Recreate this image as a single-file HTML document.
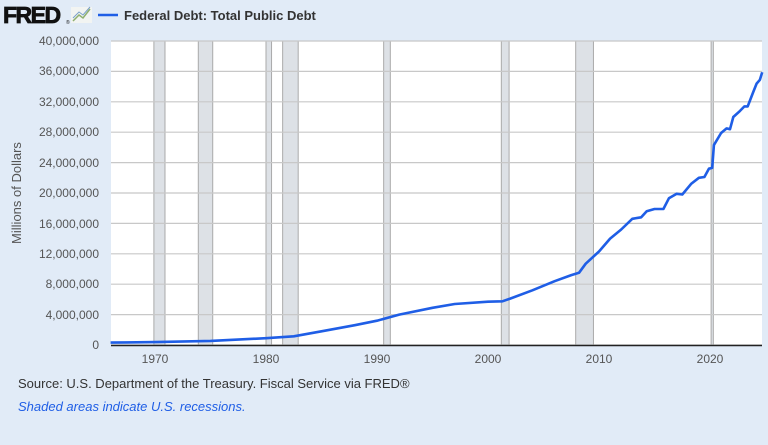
<!DOCTYPE html>
<html><head><meta charset="utf-8"><style>
body{margin:0;width:768px;height:440px;background:#e1ebf7;font-family:"Liberation Sans",sans-serif;overflow:hidden}
</style></head><body>
<svg width="768" height="440" xmlns="http://www.w3.org/2000/svg" font-family="Liberation Sans, sans-serif">
<text x="3" y="23" font-size="23" font-weight="bold" fill="#111" stroke="#111" stroke-width="0.8" letter-spacing="-1.5">FRED</text>
<text x="66" y="24" font-size="5" fill="#111">®</text>
<rect x="71" y="7" width="21" height="16" fill="#f2f4f2"/>
<polyline points="73,21 79,15 83,18 90,9" fill="none" stroke="#8fb070" stroke-width="1.5"/>
<polyline points="73,18 79,12 83,15 90,7" fill="none" stroke="#7aa0c8" stroke-width="1"/>
<line x1="98" y1="15" x2="118" y2="15" stroke="#1f5ee6" stroke-width="2.5"/>
<text x="124" y="20" font-size="13" font-weight="bold" fill="#333">Federal Debt: Total Public Debt</text>
<rect x="111" y="41" width="651" height="304" fill="#fff"/>
<g id="rec" fill="#dde1e6" stroke="#aaa" stroke-width="1"></g>
<g id="grid" stroke="#c8c8c8" stroke-width="1.2"></g>
<g id="ylab" font-size="12" fill="#555" text-anchor="end">
<text x="99" y="45">40,000,000</text><text x="99" y="75">36,000,000</text><text x="99" y="106">32,000,000</text><text x="99" y="136">28,000,000</text><text x="99" y="167">24,000,000</text><text x="99" y="197">20,000,000</text><text x="99" y="228">16,000,000</text><text x="99" y="258">12,000,000</text><text x="99" y="288">8,000,000</text><text x="99" y="319">4,000,000</text><text x="99" y="349">0</text>
</g>
<text transform="translate(21,193) rotate(-90)" font-size="13" fill="#555" text-anchor="middle">Millions of Dollars</text>
<g font-size="12" fill="#555" text-anchor="middle">
<text x="155" y="363">1970</text><text x="266" y="363">1980</text><text x="377" y="363">1990</text><text x="488" y="363">2000</text><text x="599" y="363">2010</text><text x="710" y="363">2020</text>
</g>
<path id="ln" fill="none" stroke="#1f5ee6" stroke-width="2.6" stroke-linejoin="round"/>
<line x1="111" y1="345.5" x2="762" y2="345.5" stroke="#222" stroke-width="1.5"/>
<text x="18" y="388" font-size="13" fill="#333">Source: U.S. Department of the Treasury. Fiscal Service via FRED®</text>
<text x="18" y="411" font-size="13" fill="#1f5ee6" font-style="italic">Shaded areas indicate U.S. recessions.</text>
</svg>
<script>
const X=y=>155+11.1*(y-1970), Y=v=>345-v/40*304, ns="http://www.w3.org/2000/svg";
const rec=[[1969.9,1970.9],[1973.9,1975.2],[1980,1980.5],[1981.5,1982.9],[1990.6,1991.2],[2001.2,2001.9],[2007.9,2009.5],[2020.1,2020.3]];
const rg=document.getElementById('rec');
rec.forEach(r=>{const e=document.createElementNS(ns,'rect');e.setAttribute('x',X(r[0]));e.setAttribute('y',41);e.setAttribute('width',X(r[1])-X(r[0]));e.setAttribute('height',304);rg.appendChild(e);});
const g=document.getElementById('grid');
for(let i=0;i<=10;i++){const l=document.createElementNS(ns,'line');const y=Y(i*4);l.setAttribute('x1',111);l.setAttribute('x2',762);l.setAttribute('y1',y);l.setAttribute('y2',y);g.appendChild(l);}
const d=[[1966,.32],[1970,.38],[1975,.54],[1980,.9],[1982.5,1.15],[1985,1.8],[1988,2.6],[1990,3.2],[1992,4.0],[1995,4.9],[1997,5.4],[2000,5.7],[2001.3,5.75],[2002,6.1],[2004,7.2],[2006,8.4],[2007.5,9.2],[2008.2,9.5],[2008.8,10.7],[2010,12.3],[2011,14.0],[2012,15.2],[2013,16.6],[2013.8,16.8],[2014.3,17.6],[2015,17.9],[2015.8,17.9],[2016.3,19.3],[2017,19.9],[2017.5,19.8],[2018.3,21.2],[2019,22.0],[2019.5,22.1],[2019.9,23.2],[2020.2,23.3],[2020.35,26.3],[2021,27.9],[2021.5,28.5],[2021.8,28.4],[2022.1,30.0],[2022.7,30.8],[2023.1,31.4],[2023.4,31.4],[2023.9,33.3],[2024.2,34.4],[2024.5,34.9],[2024.7,35.9]];
document.getElementById('ln').setAttribute('d','M'+d.map(p=>X(p[0]).toFixed(1)+','+Y(p[1]).toFixed(1)).join('L'));
</script>
</body></html>
